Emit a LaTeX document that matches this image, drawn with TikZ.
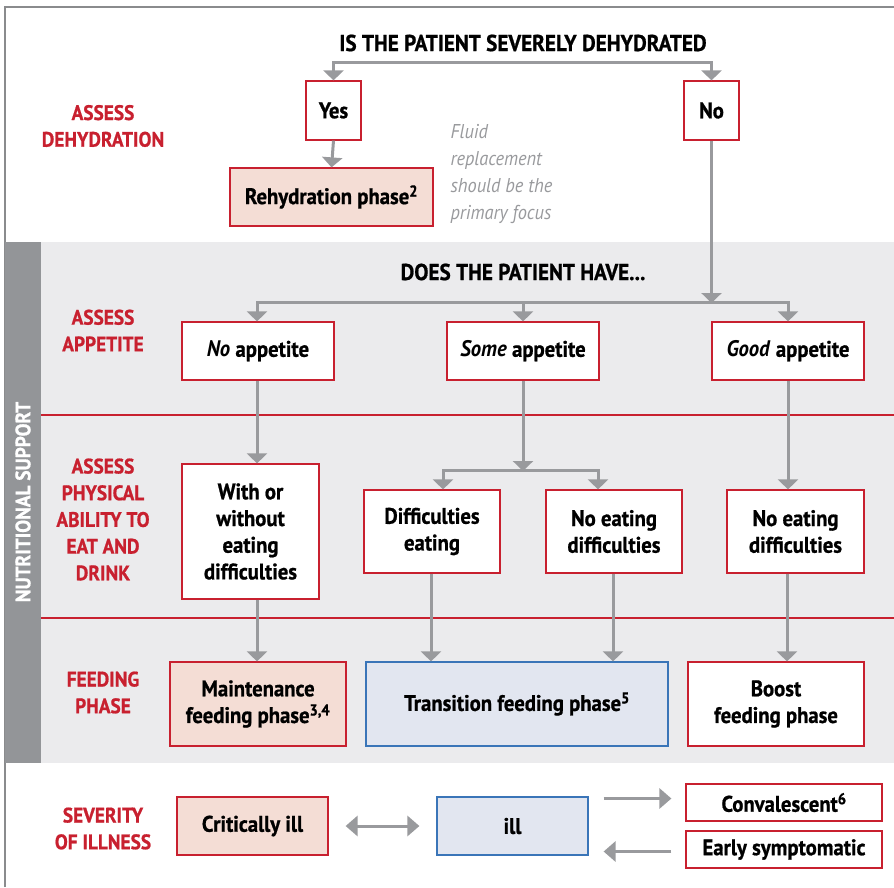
\documentclass[tikz,border=0pt]{standalone}
\usepackage{fontspec}
\setmainfont[FakeStretch=0.92,BoldFeatures={FakeBold=0.8}]{PT Sans}
\usetikzlibrary{arrows.meta}
\definecolor{nsred}{HTML}{C8202F}
\definecolor{nspink}{HTML}{F4DDD5}
\definecolor{nsblue}{HTML}{3A75B8}
\definecolor{nsbluefill}{HTML}{E2E6F0}
\definecolor{nsband}{HTML}{EBEBED}
\definecolor{nsstrip}{HTML}{939598}
\definecolor{nsgray}{HTML}{999A9D}
\newcommand\boxfont{\fontsize{22.5}{26.7}\selectfont\bfseries}
\newcommand\sidefont{\fontsize{21}{26.7}\selectfont\bfseries}
\newcommand\headfont{\fontsize{23}{27}\selectfont\bfseries}
\begin{document}
\begin{tikzpicture}
[x=1pt,y=-1pt,
  boxdecorate/.style={draw=nsred,line width=1.2pt,fill=white,inner sep=0pt,align=center,font=\boxfont},
  pinkdecorate/.style={boxdecorate,fill=nspink},
  bluedecorate/.style={boxdecorate,draw=nsblue,fill=nsbluefill},
  linedecorate/.style={draw=nsgray,line width=3pt,-{Triangle[width=20pt,length=10pt]}},
  sidedecorate/.style={draw=nsgray,line width=3pt,{Triangle[width=20pt,length=12pt]}-{Triangle[width=20pt,length=12pt]}},
  labeldecorate/.style={text=nsred,font=\sidefont,align=center}]
\useasboundingbox (0,0) rectangle (894,887);
%% frame and nutritional support band
\draw[nsgray!90!black,line width=1.5pt] (5,887) -- (5,7) -- (894,7);
\fill[nsband] (5,242) rectangle (894,763);
\fill[nsstrip] (5,242) rectangle (41,763);
\node (support) at (23,502) [rotate=90,text=white,font=\sidefont] {NUTRITIONAL SUPPORT};
\foreach \y in {415,618} {
  \draw[nsred,line width=2pt] (41,\y) -- (894,\y);
}
%% row labels
\foreach \nodename/\y/\txt in {dehyd/126/{ASSESS\\DEHYDRATION}, appet/330.5/{ASSESS\\APPETITE},
  ability/519.5/{ASSESS\\PHYSICAL\\ABILITY TO\\EAT AND\\DRINK}, feeding/692.5/{FEEDING\\PHASE},
  severity/828.5/{SEVERITY\\OF ILLNESS}} {
  \node (\nodename) at (103,\y) [labeldecorate] {\txt};
}
%% questions
\node (askdehyd) at (523,43) [font=\headfont] {IS THE PATIENT SEVERELY DEHYDRATED};
\node (askhave) at (523,272) [font=\headfont] {DOES THE PATIENT HAVE...};
\node (fluid) at (447,174) [anchor=west,align=left,text=nsgray,font=\fontsize{20}{27}\selectfont\itshape]
  {Fluid\\replacement\\should be the\\primary focus};
%% plain boxes
\foreach \nodename/\x/\y/\w/\h/\txt in {yes/333.5/110.5/55/59/Yes, no/711.5/110.5/55/59/No,
  noapp/258/351/152/58/{\textit{No} appetite}, someapp/523/351/152/58/{\textit{Some} appetite},
  goodapp/788/351/152/58/{\textit{Good} appetite},
  witheat/250.5/531.5/137/135/{With or\\without\\eating\\difficulties},
  diffeat/432/531.5/136/83/{Difficulties\\eating}, noeatmid/614/531.5/136/83/{No eating\\difficulties},
  noeatright/795.5/531.5/137/83/{No eating\\difficulties}, boost/776/704/176/84/{Boost\\feeding phase},
  conv/784/802.5/196/37/{Convalescent\textsuperscript{6}}, early/784/849.5/196/37/{Early symptomatic}} {
  \node (\nodename) at (\x,\y) [boxdecorate,minimum width=\w pt,minimum height=\h pt] {\txt};
}
%% coloured boxes
\node (rehyd) at (331.5,197) [pinkdecorate,minimum width=203pt,minimum height=58pt] {Rehydration phase\textsuperscript{2}};
\node (maint) at (258,704) [pinkdecorate,minimum width=176pt,minimum height=84pt] {Maintenance\\feeding phase\textsuperscript{3,4}};
\node (crit) at (252.5,826) [pinkdecorate,minimum width=151pt,minimum height=58pt] {Critically ill};
\node (trans) at (517,704) [bluedecorate,minimum width=302pt,minimum height=84pt] {Transition feeding phase\textsuperscript{5}};
\node (ill) at (512.5,826) [bluedecorate,minimum width=151pt,minimum height=58pt] {ill};
%% connectors
\coordinate (splitdehyd) at (522,62);
\coordinate (splitappet) at (711.5,302);
\coordinate (splitsome) at (523,470);
\draw[linedecorate] (splitdehyd) -| (yes.north);
\draw[linedecorate] (splitdehyd) -| (no.north);
\draw[linedecorate] (yes.south) -- (rehyd.north);
\draw[linedecorate,shorten >=-1pt] (no.south) -- (splitappet);
\draw[linedecorate] (splitappet) -| ([xshift=-1pt]noapp.north);
\draw[linedecorate] (splitappet) -| (goodapp.north);
\draw[linedecorate] (someapp.north |- splitappet) -- (someapp.north);
\draw[linedecorate] ([xshift=-1pt]noapp.south) -- ([xshift=-1pt]noapp.south |- witheat.north);
\draw[linedecorate,shorten >=-1pt] (someapp.south) -- (splitsome);
\draw[linedecorate] (splitsome) -| ([xshift=11pt]diffeat.north);
\draw[linedecorate] (splitsome) -| ([xshift=-16pt]noeatmid.north);
\draw[linedecorate] (goodapp.south) -- (goodapp.south |- noeatright.north);
\path
\foreach \startnode/\endnode in {noapp/witheat, diffeat/diffeat, noeatmid/noeatmid, goodapp/noeatright} {
  ([xshift=-1pt]\startnode.south |- \endnode.south) edge[linedecorate] ([xshift=-1pt]\startnode.south |- maint.north)
};
\draw[sidedecorate,shorten <=17pt,shorten >=17pt] (crit.east) -- (ill.west);
\draw[linedecorate,-{Triangle[width=20pt,length=12pt]},shorten <=15pt,shorten >=14pt] ([yshift=4pt]ill.east |- conv.west) -- ([yshift=4pt]conv.west);
\draw[linedecorate,-{Triangle[width=20pt,length=12pt]},shorten <=14pt,shorten >=15pt] ([yshift=-2pt]early.west) -- ([yshift=-2pt]ill.east |- early.west);
\end{tikzpicture}
\end{document}
